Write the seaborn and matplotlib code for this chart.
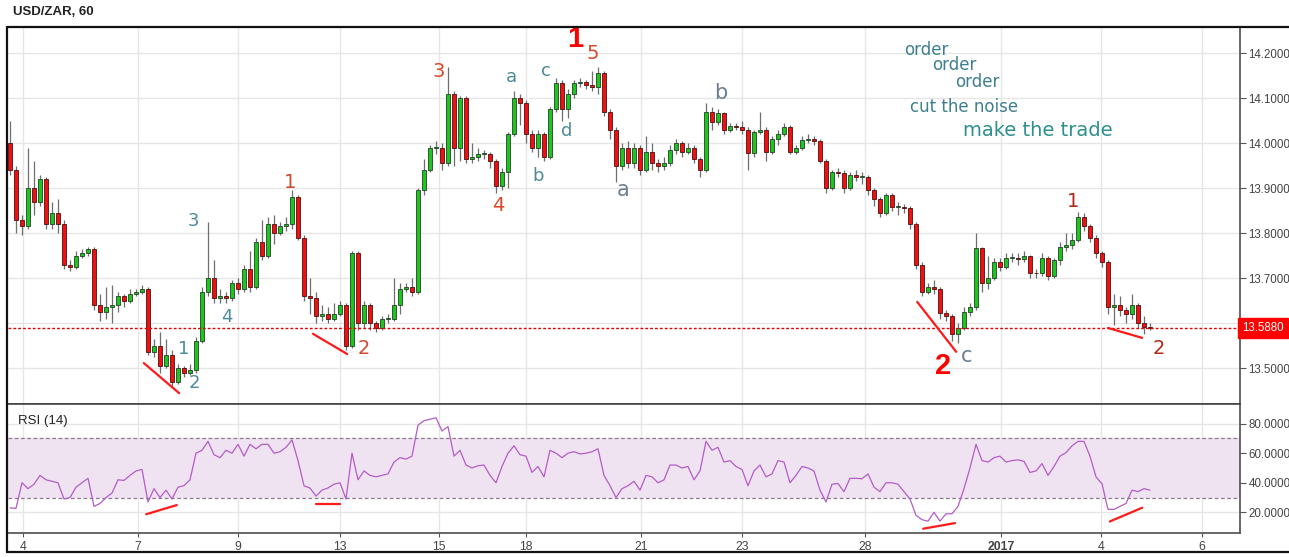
import numpy as np
import pandas as pd
import matplotlib
matplotlib.use("Agg")
import matplotlib.pyplot as plt
import matplotlib.transforms as mtransforms
from matplotlib.lines import Line2D
import seaborn as sns

# ---------------- data ----------------
first_open = 14.00
closes = [
    13.94, 13.83, 13.815, 13.90, 13.87, 13.92, 13.82, 13.845, 13.82, 13.73,
    13.725, 13.75, 13.755, 13.765, 13.64, 13.625, 13.635, 13.64, 13.66, 13.65,
    13.665, 13.67, 13.675, 13.535, 13.55, 13.505, 13.53, 13.47, 13.50, 13.49,
    13.495, 13.56, 13.67, 13.70, 13.655, 13.66, 13.655, 13.69, 13.675, 13.72,
    13.68, 13.78, 13.75, 13.82, 13.80, 13.815, 13.82, 13.88, 13.79, 13.66,
    13.655, 13.615, 13.62, 13.61, 13.62, 13.64, 13.55, 13.756, 13.60, 13.64,
    13.60, 13.59, 13.61, 13.61, 13.64, 13.675, 13.68, 13.67, 13.895, 13.94,
    13.99, 13.99, 13.955, 14.11, 13.99, 14.10, 13.965, 13.97, 13.975, 13.975,
    13.96, 13.905, 13.935, 14.02, 14.10, 14.09, 14.02, 13.99, 14.02, 13.97,
    14.075, 14.133, 14.075, 14.11, 14.133, 14.136, 14.128, 14.125, 14.155, 14.07,
    14.03, 13.95, 13.99, 13.955, 13.99, 13.94, 13.98, 13.955, 13.95, 13.955,
    13.985, 14.0, 13.98, 13.99, 13.965, 13.94, 14.07, 14.047, 14.066, 14.03,
    14.037, 14.035, 14.03, 13.978, 14.025, 14.03, 13.98, 14.01, 14.02, 14.036,
    13.98, 13.99, 14.007, 14.01, 14.005, 13.96, 13.90, 13.935, 13.933, 13.90,
    13.928, 13.925, 13.925, 13.895, 13.875, 13.845, 13.885, 13.858, 13.858, 13.855,
    13.82, 13.73, 13.67, 13.68, 13.675, 13.622, 13.615, 13.575, 13.59, 13.625,
    13.635, 13.767, 13.69, 13.70, 13.736, 13.725, 13.745, 13.745, 13.742, 13.748,
    13.712, 13.711, 13.745, 13.705, 13.74, 13.769, 13.773, 13.784, 13.836, 13.815,
    13.79, 13.755, 13.736, 13.635, 13.64, 13.628, 13.62, 13.64, 13.60, 13.592,
    13.588,
]
highs = [
    14.05, 13.95, 13.84, 13.99, 13.96, 13.93, 13.925, 13.87, 13.875, 13.83,
    13.74, 13.76, 13.765, 13.77, 13.77, 13.665, 13.68, 13.685, 13.67, 13.665,
    13.675, 13.675, 13.685, 13.68, 13.565, 13.58, 13.565, 13.54, 13.51, 13.505,
    13.51, 13.57, 13.68, 13.825, 13.74, 13.675, 13.67, 13.695, 13.70, 13.73,
    13.76, 13.79, 13.83, 13.835, 13.84, 13.825, 13.835, 13.895, 13.885, 13.795,
    13.70, 13.67, 13.64, 13.635, 13.645, 13.65, 13.645, 13.76, 13.76, 13.65,
    13.645, 13.605, 13.615, 13.62, 13.70, 13.69, 13.69, 13.70, 13.90, 13.965,
    13.995, 14.005, 14.0, 14.17, 14.115, 14.105, 14.105, 14.0, 13.99, 13.985,
    13.98, 13.965, 13.945, 14.025, 14.115, 14.11, 14.095, 14.03, 14.03, 14.025,
    14.08, 14.145, 14.14, 14.12, 14.14, 14.145, 14.14, 14.16, 14.17, 14.16,
    14.075, 14.035, 14.00, 14.005, 14.00, 13.995, 14.015, 14.0, 13.965, 13.97,
    13.995, 14.01, 14.005, 14.0, 13.995, 13.97, 14.09, 14.08, 14.075, 14.07,
    14.045, 14.045, 14.05, 14.035, 14.03, 14.07, 14.035, 14.015, 14.03, 14.045,
    14.04, 13.995, 14.015, 14.02, 14.015, 14.01, 13.965, 13.94, 13.945, 13.94,
    13.935, 13.94, 13.935, 13.93, 13.9, 13.88, 13.89, 13.89, 13.87, 13.865,
    13.86, 13.825, 13.735, 13.69, 13.695, 13.68, 13.63, 13.62, 13.60, 13.635,
    13.645, 13.80, 13.77, 13.75, 13.745, 13.745, 13.755, 13.755, 13.755, 13.76,
    13.752, 13.72, 13.755, 13.75, 13.745, 13.78, 13.80, 13.80, 13.847, 13.845,
    13.82, 13.795, 13.76, 13.74, 13.665, 13.66, 13.635, 13.665, 13.645, 13.615,
    13.60,
]
lows = [
    13.93, 13.80, 13.795, 13.81, 13.84, 13.86, 13.81, 13.81, 13.80, 13.72,
    13.715, 13.72, 13.745, 13.75, 13.63, 13.605, 13.61, 13.60, 13.625, 13.635,
    13.645, 13.66, 13.665, 13.53, 13.525, 13.49, 13.50, 13.46, 13.465, 13.48,
    13.485, 13.49, 13.555, 13.66, 13.645, 13.645, 13.645, 13.65, 13.665, 13.67,
    13.67, 13.675, 13.74, 13.745, 13.775, 13.795, 13.805, 13.81, 13.785, 13.65,
    13.62, 13.60, 13.605, 13.60, 13.605, 13.615, 13.54, 13.545, 13.585, 13.59,
    13.585, 13.58, 13.585, 13.60, 13.605, 13.62, 13.67, 13.66, 13.665, 13.885,
    13.935, 13.975, 13.94, 13.95, 13.95, 13.96, 13.955, 13.955, 13.96, 13.965,
    13.945, 13.89, 13.895, 13.90, 14.015, 14.04, 14.00, 13.98, 13.97, 13.96,
    13.965, 14.07, 14.05, 14.055, 14.10, 14.125, 14.12, 14.115, 14.11, 14.06,
    14.01, 13.913, 13.94, 13.945, 13.945, 13.93, 13.935, 13.94, 13.935, 13.94,
    13.95, 13.975, 13.97, 13.975, 13.955, 13.925, 13.935, 14.03, 14.04, 14.02,
    14.025, 14.03, 14.02, 13.94, 13.97, 14.02, 13.96, 13.975, 13.995, 14.015,
    13.975, 13.975, 13.985, 14.0, 13.995, 13.955, 13.89, 13.895, 13.925, 13.89,
    13.895, 13.915, 13.91, 13.885, 13.86, 13.835, 13.84, 13.85, 13.84, 13.845,
    13.81, 13.72, 13.66, 13.665, 13.665, 13.61, 13.605, 13.56, 13.555, 13.585,
    13.615, 13.63, 13.67, 13.675, 13.695, 13.715, 13.72, 13.735, 13.73, 13.735,
    13.70, 13.70, 13.705, 13.695, 13.70, 13.73, 13.76, 13.765, 13.78, 13.805,
    13.78, 13.745, 13.725, 13.62, 13.595, 13.615, 13.60, 13.61, 13.59, 13.575,
    13.585,
]
rsi = [
    23, 22.7, 40, 36, 39, 45, 42, 41, 40, 29,
    30, 37, 40, 43, 24, 26, 30, 33, 42, 41.6,
    45, 48, 49, 27, 36, 30, 35, 29, 37, 38,
    42, 60, 62, 68, 59, 57, 62, 60, 66, 58,
    66, 63, 66, 66, 60, 61, 64, 69, 55, 38,
    36.4, 31, 35, 36.5, 39, 40, 29, 60, 42, 48,
    45, 44, 45, 46, 54, 57, 56, 58, 79, 82,
    83, 84, 75, 78, 58, 62, 52, 50, 51.5, 52,
    45, 40, 51, 60, 65, 59, 58, 47, 51, 44,
    62, 60, 57, 60, 61, 59.5, 60, 61, 63, 45,
    38, 30, 36, 38, 41, 35, 45, 44, 40, 42,
    52, 52, 50, 51, 42, 48, 68, 62, 64, 54,
    55, 51, 49, 38, 48, 52, 44, 46, 55, 54,
    40, 45, 51, 50, 48, 35, 27, 39, 39.5, 34,
    43, 43, 42.7, 46, 37, 34, 40, 40, 39, 34,
    29, 18, 15, 14, 20, 14, 19, 19, 24, 36,
    50, 66, 55, 54, 57, 58, 54, 55, 55.5, 54.5,
    47, 48, 53, 45, 51, 58, 60.4, 65, 68, 68,
    58, 44, 39.3, 22, 22, 24, 26, 35, 34, 36,
    35,
]
last_price = 13.588

date_tick_pos = [2.2, 21.3, 38, 55, 71.5, 86, 105.2, 122, 142.5, 165.2, 181.8, 198.7]
date_tick_labels = ["4", "7", "9", "13", "15", "18", "21", "23", "28", "2017", "4", "6"]
price_ticks = [13.5, 13.6, 13.7, 13.8, 13.9, 14.0, 14.1, 14.2]
rsi_ticks = [20, 40, 60, 80]

# wave labels: text, bar position, price, colour, size, weight
wave_labels = [
    ("1", 94.2, 14.231, "#ff0000", 21, "bold"),
    ("5", 97.2, 14.200, "#d9482b", 14, "normal"),
    ("3", 71.5, 14.158, "#d9482b", 14, "normal"),
    ("a", 83.5, 14.147, "#4e8a99", 13, "normal"),
    ("c", 89.3, 14.160, "#4e8a99", 13, "normal"),
    ("d", 92.7, 14.027, "#4e8a99", 13, "normal"),
    ("b", 88.0, 13.927, "#4e8a99", 13, "normal"),
    ("4", 81.3, 13.862, "#d9482b", 14, "normal"),
    ("a", 102.2, 13.896, "#6c7f92", 15, "normal"),
    ("b", 118.5, 14.111, "#6c7f92", 15, "normal"),
    ("1", 46.7, 13.913, "#d04a30", 14, "normal"),
    ("3", 30.5, 13.827, "#4e8a99", 13, "normal"),
    ("4", 36.2, 13.613, "#4e8a99", 13, "normal"),
    ("1", 29.0, 13.542, "#4e8a99", 13, "normal"),
    ("2", 30.8, 13.467, "#4e8a99", 13, "normal"),
    ("2", 59.0, 13.544, "#d04a30", 14, "normal"),
    ("1", 177.2, 13.871, "#b02a1a", 14, "normal"),
    ("2", 191.5, 13.544, "#b02a1a", 14, "normal"),
    ("2", 155.5, 13.504, "#ff0000", 21, "bold"),
    ("c", 159.5, 13.527, "#6c7f92", 15, "normal"),
]
notes = [
    ("order", 149.0, 14.207, "#3e7f8f", 12),
    ("order", 153.7, 14.173, "#3e7f8f", 12),
    ("order", 157.5, 14.136, "#3e7f8f", 12),
    ("cut the noise", 150.0, 14.080, "#3e7f8f", 12),
    ("make the trade", 158.8, 14.029, "#2f8f8f", 14),
]
price_lines = [((22.3, 28.2), (13.511, 13.444)),
               ((50.5, 56.2), (13.576, 13.531)),
               ((151.2, 157.7), (13.647, 13.536)),
               ((183.0, 188.7), (13.589, 13.567))]
rsi_lines = [((22.7, 27.8), (18.7, 24.9)),
             ((51.0, 55.0), (25.3, 25.3)),
             ((152.2, 157.5), (8.9, 12.7)),
             ((183.3, 188.7), (13.8, 23.1))]

# ---------------- build frame ----------------
n = len(closes)
df = pd.DataFrame({
    "bar": np.arange(n),
    "open": [first_open] + closes[:-1],
    "close": closes,
    "high": highs,
    "low": lows,
    "rsi": rsi,
})
df["up"] = df["close"] >= df["open"]

sns.set_theme(style="white")
plt.rcParams["font.family"] = ["Liberation Sans", "DejaVu Sans"]

W, H = 1289, 557
fig = plt.figure(figsize=(W / 100, H / 100), dpi=100)
fig.patch.set_facecolor("white")

def fx(px):
    return px / W

def fy(py):
    return 1 - py / H

left, right = 8, 1240
ax = fig.add_axes([fx(left), fy(404), fx(right) - fx(left), fy(27) - fy(404)])
ax2 = fig.add_axes([fx(left), fy(533), fx(right) - fx(left), fy(404) - fy(533)], sharex=ax)

xlim = ((left - 10) / 6, (right - 10) / 6)
grid_c = "#e6e6e6"
lab_size = 8.3

# ---- price panel ----
ax.set_xlim(*xlim)
ax.set_ylim(13.42, 14.258)
for t in price_ticks:
    ax.axhline(t, color=grid_c, lw=1, zorder=0)
for t in date_tick_pos:
    ax.axvline(t, color=grid_c, lw=1, zorder=0)

ax.vlines(df["bar"], df["low"], df["high"], color="#6e6e6e", lw=0.9, zorder=2)
up = df[df["up"]]
dn = df[~df["up"]]
ax.bar(up["bar"], (up["close"] - up["open"]).clip(lower=0.002), bottom=up["open"],
       width=0.62, color="#1ec51e", edgecolor="#24402a", lw=0.6, zorder=3)
ax.bar(dn["bar"], dn["close"] - dn["open"], bottom=dn["open"],
       width=0.62, color="#ee1111", edgecolor="#4a1010", lw=0.6, zorder=3)

ax.axhline(last_price, color="#e00000", lw=1.0, ls=(0, (2, 1.5)), zorder=4)

for (xs, ys) in price_lines:
    ax.plot(xs, ys, color="#ff1a1a", lw=1.6, zorder=5)
for (txt, x, y, c, s, w) in wave_labels:
    ax.text(x, y, txt, color=c, fontsize=s, fontweight=w, ha="center", va="center",
            family=["DejaVu Sans"] if w == "normal" else ["Liberation Sans"], zorder=6)
for (txt, x, y, c, s) in notes:
    ax.text(x, y, txt, color=c, fontsize=s, ha="left", va="center",
            family=["DejaVu Sans"], zorder=6)

ax.yaxis.tick_right()
ax.set_yticks(price_ticks)
ax.set_yticklabels(["" if abs(t - 13.6) < 1e-9 else f"{t:.4f}" for t in price_ticks])
ax.tick_params(axis="y", which="both", right=True, length=4, width=0.8, color="#555555",
               labelsize=lab_size, labelcolor="#444444", pad=2)
ax.tick_params(axis="x", bottom=False, labelbottom=False)
for s in ["top", "left"]:
    ax.spines[s].set_visible(False)
ax.spines["right"].set_color("#555555")
ax.spines["bottom"].set_color("#444444")
ax.spines["bottom"].set_linewidth(1.2)
ax.set_xlabel("")
ax.set_ylabel("")

trans = mtransforms.blended_transform_factory(ax.transAxes, ax.transData)
ax.text(1.0015, last_price, "13.5880", transform=trans, color="white", fontsize=lab_size,
        ha="left", va="center", clip_on=False, zorder=10,
        bbox=dict(boxstyle="square,pad=0.35", fc="#ff0000", ec="#ff0000"))

# ---- RSI panel ----
ax2.set_ylim(6, 93.3)
for t in rsi_ticks:
    ax2.axhline(t, color=grid_c, lw=1, zorder=0)
for t in date_tick_pos:
    ax2.axvline(t, color=grid_c, lw=1, zorder=0)
ax2.axhspan(30, 70, color="#efe3f1", zorder=0.5, lw=0)
ax2.axhline(70, color="#8c7a8c", lw=0.9, ls=(0, (3, 2)), zorder=1)
ax2.axhline(30, color="#8c7a8c", lw=0.9, ls=(0, (3, 2)), zorder=1)
sns.lineplot(data=df, x="bar", y="rsi", ax=ax2, color="#b45cc8", lw=0.9,
             estimator=None, zorder=3)
for (xs, ys) in rsi_lines:
    ax2.plot(xs, ys, color="#ff1a1a", lw=1.6, zorder=5)
ax2.text(0.008, 0.87, "RSI (14)", transform=ax2.transAxes, fontsize=9.5, color="#222222",
         ha="left", va="center")

ax2.yaxis.tick_right()
ax2.set_yticks(rsi_ticks)
ax2.set_yticklabels([f"{t:.4f}" for t in rsi_ticks])
ax2.tick_params(axis="y", right=True, length=4, width=0.8, color="#555555",
                labelsize=lab_size, labelcolor="#444444", pad=2)
ax2.set_xticks(date_tick_pos)
ax2.set_xticklabels(date_tick_labels)
ax2.tick_params(axis="x", bottom=True, length=3, width=0.8, color="#555555",
                labelsize=lab_size + 0.5, labelcolor="#444444", pad=3)
for lab in ax2.get_xticklabels():
    if lab.get_text() == "2017":
        lab.set_fontweight("bold")
ax2.spines["left"].set_visible(False)
ax2.spines["top"].set_color("#444444")
ax2.spines["top"].set_linewidth(1.2)
ax2.spines["right"].set_color("#555555")
ax2.spines["bottom"].set_color("#555555")
ax2.set_xlabel("")
ax2.set_ylabel("")
ax2.set_xlim(*xlim)

# ---- outer frame (top, left, bottom) & title ----
frame_kw = dict(transform=fig.transFigure, color="#111111", lw=1.6)
fig.add_artist(Line2D([fx(7), 1.0], [fy(27), fy(27)], **frame_kw))
fig.add_artist(Line2D([fx(7), fx(7)], [fy(27), fy(552)], **frame_kw))
fig.add_artist(Line2D([fx(7), 1.0], [fy(552), fy(552)], **frame_kw))
fig.text(fx(13), fy(12), "USD/ZAR, 60", fontsize=9.5, fontweight="bold",
         color="#222222", ha="left", va="center")

fig.savefig("out.png", dpi=100, facecolor="white")
